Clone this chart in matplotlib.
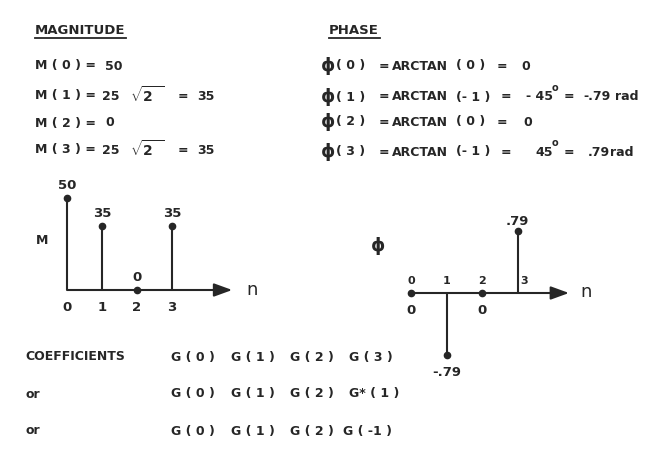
import numpy as np
import matplotlib
matplotlib.use("Agg")
import matplotlib.pyplot as plt

# G(n) for n = 0..3, magnitude and phase (rad)
n = [0, 1, 2, 3]
n_labels = ["0", "1", "2", "3"]
magnitude = [50, 35, 0, 35]
phase = [0, -0.79, 0, 0.79]

coef_rows = [
    ["G ( 0 )", "G ( 1 )", "G ( 2 )", "G ( 3 )"],
    ["G ( 0 )", "G ( 1 )", "G ( 2 )", "G* ( 1 )"],
    ["G ( 0 )", "G ( 1 )", "G ( 2 )", "G ( -1 )"],
]
row_names = ["COEFFICIENTS", "or", "or"]

W, H = 670, 466
INK = "#262626"
FONT = ["DejaVu Sans"]

plt.rcParams["mathtext.fontset"] = "custom"
plt.rcParams["mathtext.rm"] = "DejaVu Sans:bold"
plt.rcParams["mathtext.it"] = "DejaVu Sans:bold"
plt.rcParams["mathtext.bf"] = "DejaVu Sans:bold"

fig = plt.figure(figsize=(W / 100, H / 100), dpi=100)
page = fig.add_axes([0, 0, 1, 1])
page.set_xlim(0, W)
page.set_ylim(H, 0)
page.axis("off")


def px_axes(x0, y0, x1, y1):
    ax = fig.add_axes([x0 / W, 1 - y1 / H, (x1 - x0) / W, (y1 - y0) / H])
    ax.axis("off")
    return ax


def txt(x, y, s, size=9, weight="bold", **kw):
    page.text(x, y, s, fontsize=size, color=INK, fontweight=weight,
              family=FONT, va="center", ha=kw.pop("ha", "left"), **kw)


def fmt(v):
    if v == 0:
        return "0"
    return f"{v:.2f}".replace("0.", ".")


# ---- headers ----
txt(35, 31, "MAGNITUDE", size=9.5)
page.plot([35, 126], [38, 38], color=INK, lw=1.3)
txt(329, 31, "PHASE", size=9.5)
page.plot([329, 380], [38, 38], color=INK, lw=1.3)

# ---- magnitude equations ----
rows_y = [66, 96, 123, 150]
for k, y in zip(n, rows_y):
    txt(35, y, f"M ( {k} ) =")
    if magnitude[k] in (0, 50):
        txt(105, y, str(magnitude[k]))
    else:
        txt(102, y, "25")
        txt(130, y - 1, r"$\sqrt{2\;\;}$", size=10)
        txt(178, y, "=")
        txt(197, y, str(magnitude[k]))

# ---- phase equations ----
ph_y = [66, 97, 122, 152]
for k, y in zip(n, ph_y):
    txt(321, y, "\u03d5", size=13)
    txt(336, y, f"( {k} )")
    txt(379, y, "=")
    txt(392, y, "ARCTAN")
    deg = int(round(np.degrees(phase[k])))
    if phase[k] == 0:
        txt(456, y, "( 0 )")
        txt(497, y, "=")
        txt(521 if k == 0 else 523, y, "0")
    else:
        txt(456, y, "(- 1 )")
        txt(501, y, "=")
        if deg < 0:
            txt(526, y, f"- {abs(deg)}")
        else:
            txt(535, y, f"{deg}")
        txt(555, y - 9, "o", size=7, ha="center")
        txt(564, y, "=")
        if deg < 0:
            txt(583, y, fmt(phase[k]))
            txt(615, y, "rad")
        else:
            txt(588, y, fmt(phase[k]))
            txt(610, y, "rad")

# ---- magnitude stem plot ----
ax_m = px_axes(32, 179.6, 277, 317.6)
ax_m.set_xlim(-1, 6)
ax_m.set_ylim(-15, 60)
for k, v in zip(n, magnitude):
    ax_m.plot([k, k], [0, v], color=INK, lw=1.5, solid_capstyle="butt")
    ax_m.annotate(str(v), (k, v), xytext=(0, 4), textcoords="offset points",
                  ha="center", va="bottom", fontsize=9.5, fontweight="bold",
                  color=INK, family=FONT)
    ax_m.annotate(n_labels[k], (k, 0), xytext=(0, -8), textcoords="offset points",
                  ha="center", va="top", fontsize=9.5, fontweight="bold",
                  color=INK, family=FONT)
ax_m.annotate("", xy=(4.72, 0), xytext=(0, 0),
              arrowprops=dict(arrowstyle="-|>,head_length=11,head_width=4",
                              mutation_scale=1, color=INK, lw=1.5,
                              shrinkA=0, shrinkB=0))
ax_m.plot(n, magnitude, "o", ms=4.5, color=INK)
txt(36, 241, "M")
txt(246, 290, "n", size=13, weight="normal")

# ---- phase stem plot ----
ax_p = px_axes(375.5, 198.8, 624, 387.2)
ax_p.set_xlim(-1, 6)
ax_p.set_ylim(-1.2, 1.2)
for k, v in zip(n, phase):
    ax_p.plot([k, k], [0, v], color=INK, lw=1.5, solid_capstyle="butt")
    above = v > 0
    ax_p.annotate(fmt(v), (k, v), xytext=(0, 2 if above else -8),
                  textcoords="offset points", ha="center",
                  va="bottom" if above else "top", fontsize=9.5,
                  fontweight="bold", color=INK, family=FONT)
    dx = 5 if v > 0 else 0
    ax_p.annotate(n_labels[k], (k, 0), xytext=(dx, 5), textcoords="offset points",
                  ha="center", va="bottom", fontsize=8, fontweight="bold",
                  color=INK, family=FONT)
ax_p.annotate("", xy=(4.45, 0), xytext=(0, 0),
              arrowprops=dict(arrowstyle="-|>,head_length=11,head_width=4",
                              mutation_scale=1, color=INK, lw=1.5,
                              shrinkA=0, shrinkB=0))
ax_p.plot(n, phase, "o", ms=4.5, color=INK)
txt(371, 246, "\u03d5", size=13)
txt(580, 292, "n", size=13, weight="normal")

# ---- coefficients ----
col_x = [171, 231, 290, 349]
coef_y = [357, 394, 431]
for name, row, y in zip(row_names, coef_rows, coef_y):
    txt(25 if name != "or" else 26, y, name)
    for x, s in zip(col_x, row):
        txt(x - 6 if s == "G ( -1 )" else x, y, s)

fig.savefig("out.png", dpi=100, facecolor="white")
